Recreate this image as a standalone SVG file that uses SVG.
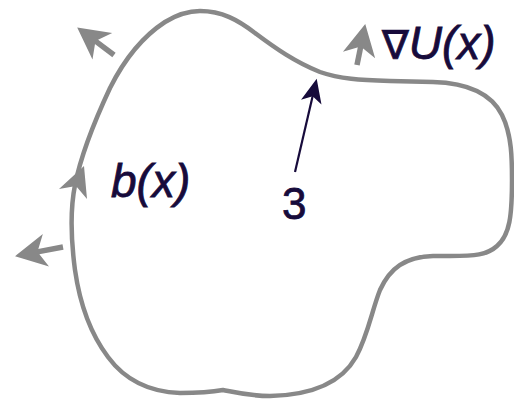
<svg xmlns="http://www.w3.org/2000/svg" width="514" height="399" viewBox="0 0 514 399">
<style>
.outline{fill:none;stroke:#888888;stroke-width:4.5;stroke-linejoin:round}
.garrow{fill:none;stroke:#888888;stroke-width:5.5}
.darrow{fill:none;stroke:#170b3b;stroke-width:2.2}
.lbl{font-family:"Liberation Sans",Arial,sans-serif;fill:#170b3b;stroke:#170b3b;stroke-width:0.8}
</style>
<defs>
<marker id="gh" markerUnits="userSpaceOnUse" orient="auto" refX="0" refY="0" markerWidth="40" markerHeight="40" viewBox="-10 -14 28 28" overflow="visible">
<path d="M14,0 L-8,-11.5 L-2,0 L-8,11.5 Z" fill="#888888"/>
</marker>
<marker id="dh" markerUnits="userSpaceOnUse" orient="auto" refX="0" refY="0" markerWidth="30" markerHeight="30" viewBox="-10 -10 20 20" overflow="visible">
<path d="M5,0 L-11,-7 L-7,0 L-11,7 Z" fill="#170b3b"/>
</marker>
</defs>
<g id="boundary">
<path class="outline" d="M200,11 C222,11 238,20 255,33 C275,48 295,62 320,72 C340,79 360,80 390,81 L433,82 C470,83 492,95 502,115 C512,135 512,160 512,180 C512,215 510,235 497,246 C487,255 475,256 450,256 L433,256 C405,257 390,268 380,290 C372,310 368,335 356,357 C343,380 318,395 270,396 C250,396 238,393 223,390 C212,392 200,393 180,393 C150,392 125,380 108,357 C90,333 80,305 75,270 C71,240 70,210 75,185 C81,155 95,120 110,88 C125,58 145,35 165,22 C178,14 190,11 200,11 Z"/>
<path d="M84,166 L87,199 L76,186 L59,189 Z" fill="#888888"/>
</g>
<g id="connectors">
<path class="garrow" d="M114,55 L93.2,39.4" marker-end="url(#gh)"/>
<path class="garrow" d="M357,65 L361.3,43.7" marker-end="url(#gh)"/>
<path class="garrow" d="M63,247 L34.7,252.4" marker-end="url(#gh)"/>
<path class="darrow" d="M295,172 L315,86" marker-end="url(#dh)"/>
</g>
<g id="label-b">
<text class="lbl" x="111" y="197" font-size="46" font-style="italic">b(x)</text>
</g>
<g id="label-gradU">
<text class="lbl" x="382" y="59" font-size="46"><tspan font-family="DejaVu Sans" font-size="40">∇</tspan><tspan font-style="italic">U(x)</tspan></text>
</g>
<g id="label-3">
<text class="lbl" x="282" y="219" font-size="44">3</text>
</g>
</svg>
